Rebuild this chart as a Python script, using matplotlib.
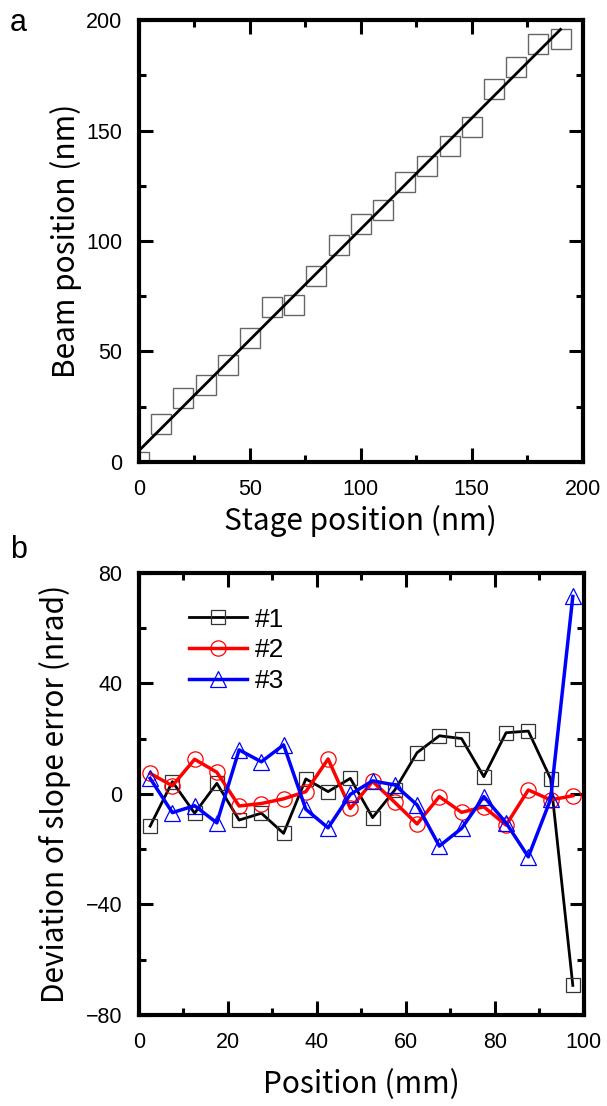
import numpy as np
import matplotlib
matplotlib.use("Agg")
import matplotlib.pyplot as plt
from matplotlib.ticker import MultipleLocator

plt.rcParams['font.family'] = ['Liberation Sans', 'DejaVu Sans']
label_font = ['Noto Sans CJK JP', 'DejaVu Sans']

# panel a: beam position vs stage position
stage_pos = [0, 10, 20, 30, 40, 50, 60, 70, 80, 90,
             100, 110, 120, 130, 140, 150, 160, 170, 180, 190]
beam_pos = [0, 17, 29, 35, 44, 56, 70, 71, 84, 98,
            107.7, 114, 126.8, 134, 143, 151.7, 168.8, 178.6, 189, 191.5]

# panel b: deviation of slope error
position = [2.5, 7.5, 12.5, 17.5, 22.5, 27.5, 32.5, 37.5, 42.5, 47.5,
            52.5, 57.5, 62.5, 67.5, 72.5, 77.5, 82.5, 87.5, 92.5, 97.5]
dev_1 = [-11.7, 4.4, -7, 3.8, -9.5, -7, -14.3, 5.4, 0.8, 5.6,
         -8.6, 1.4, 14.9, 21, 20, 6.2, 22.1, 22.7, 5.5, -69.3]
dev_2 = [7.4, 2.9, 12.5, 7.8, -4.4, -3.5, -1.8, 0.8, 12.6, -5.3,
         4.5, -3.1, -10.9, -1, -6.7, -4.7, -11.3, 1.4, -2.2, -0.7]
dev_3 = [5.6, -6.8, -4.3, -10.5, 15.9, 11.6, 17.7, -5.6, -12.3, -0.2,
         4.7, 3.2, -4, -18.9, -12.5, -1, -10.5, -22.8, -2, 71.4]
series_labels = ['#1', '#2', '#3']

fig = plt.figure(figsize=(6.07, 11.06), dpi=100)
ax1 = fig.add_axes([0.229, 0.5823, 0.731, 0.3996])
ax2 = fig.add_axes([0.229, 0.0823, 0.733, 0.3999])


def style_axes(ax):
    for s in ax.spines.values():
        s.set_linewidth(3)
    ax.tick_params(which='both', direction='in', top=True, right=True,
                   width=2.2, labelsize=15.5)
    ax.tick_params(which='major', length=10, pad=12)
    ax.tick_params(which='minor', length=5)


# --- panel a ---
ax1.plot(stage_pos, beam_pos, 's', ms=14, mfc='none', mec='#666666', mew=1.0)
k, b = np.polyfit(stage_pos, beam_pos, 1)
xfit = np.array([stage_pos[0], stage_pos[-1]])
ax1.plot(xfit, k * xfit + b, color='black', lw=2)
ax1.set_xlim(0, 200)
ax1.set_ylim(0, 200)
ax1.xaxis.set_major_locator(MultipleLocator(50))
ax1.xaxis.set_minor_locator(MultipleLocator(25))
ax1.yaxis.set_major_locator(MultipleLocator(50))
ax1.yaxis.set_minor_locator(MultipleLocator(25))
style_axes(ax1)
ax1.set_xlabel('Stage position (nm)', family=label_font, fontsize=21.5, labelpad=4)
ax1.set_ylabel('Beam position (nm)', family=label_font, fontsize=21.5)
ax1.yaxis.set_label_coords(-0.128, 0.5)
fig.text(0.016, 0.993, 'a', fontsize=22, va='top', ha='left')

# --- panel b ---
ax2.plot(position, dev_1, '-s', color='black', lw=2, ms=10, mfc='none',
         mec='#333333', mew=0.9, label=series_labels[0], clip_on=False)
ax2.plot(position, dev_2, '-o', color='#ff0000', lw=2.5, ms=11, mfc='none',
         mec='#ff0000', mew=0.9, label=series_labels[1], clip_on=False)
ax2.plot(position, dev_3, '-^', color='#0000ff', lw=2.5, ms=12, mfc='none',
         mec='#0000ff', mew=0.9, label=series_labels[2], clip_on=False)
ax2.set_xlim(0, 100)
ax2.set_ylim(-80, 80)
ax2.xaxis.set_major_locator(MultipleLocator(20))
ax2.xaxis.set_minor_locator(MultipleLocator(10))
ax2.yaxis.set_major_locator(MultipleLocator(40))
ax2.yaxis.set_minor_locator(MultipleLocator(20))
style_axes(ax2)
ax2.set_xlabel('Position (mm)', family=label_font, fontsize=21.5, labelpad=12)
ax2.set_ylabel('Deviation of slope error (nrad)', family=label_font,
               fontsize=21.5)
ax2.yaxis.set_label_coords(-0.153, 0.5)
ax2.legend(loc='upper left', bbox_to_anchor=(0.088, 0.945), frameon=False,
           fontsize=19, handlelength=2.2, handletextpad=0.3, labelspacing=0.25,
           borderaxespad=0)
fig.text(0.016, 0.516, 'b', fontsize=22, va='top', ha='left')

fig.savefig('out.png', dpi=100)
